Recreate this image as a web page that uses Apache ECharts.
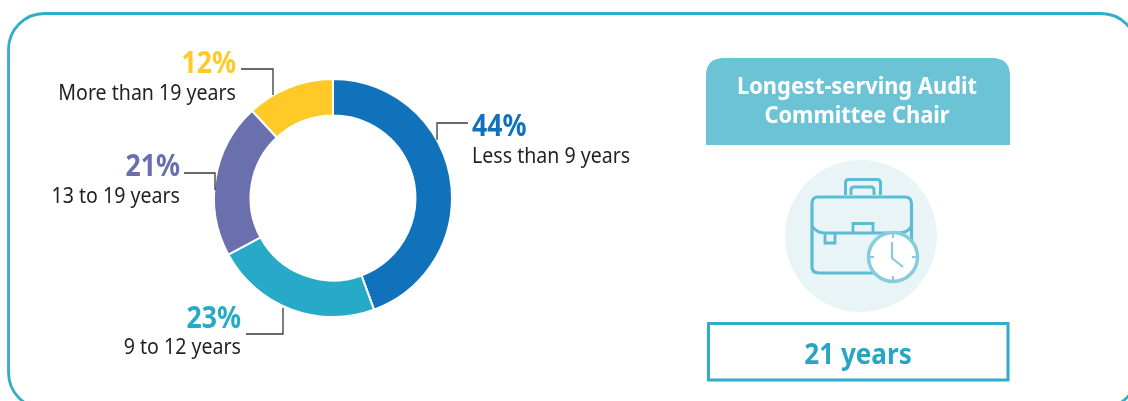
<!DOCTYPE html>
<html><head><meta charset="utf-8">
<style>html,body{margin:0;padding:0;background:#fff}#c{width:1128px;height:401px}</style>
<script src="https://cdn.jsdelivr.net/npm/echarts@6/dist/echarts.min.js"></script>
</head><body><div id="c"></div>
<script>
var categories = ['Less than 9 years','9 to 12 years','13 to 19 years','More than 19 years'];
var values = [44.4,22.7,21,11.9];
var colors = ['#1072BA','#27AAC7','#6A6FAE','#FFCA27'];
var panelTitle = ['Longest-serving Audit','Committee Chair'];
var panelValue = '21 years';

var FONT = '"Noto Sans"';
var labelPos = [
  {x:472, y:128, sy:158, align:'left',  line:[[468,123],[437,123],[437,140]]},
  {x:241, y:320, sy:349, align:'right', line:[[246,334],[283,334],[283,308]]},
  {x:180, y:168, sy:198, align:'right', line:[[184,173],[215,173],[215,190]]},
  {x:236, y:65,  sy:95,  align:'right', line:[[241,69],[273,69],[273,95]]}
];
var paths = {
  head:'M706 145 L706 76 Q706 58 724 58 L992 58 Q1010 58 1010 76 L1010 145 Z',
  handle:'M845.5 195 L845.5 183 Q845.5 179.5 849 179.5 L877 179.5 Q880.5 179.5 880.5 183 L880.5 195 M851 195 L851 190 Q851 187 854 187 L871 187 Q874 187 874 190 L874 195',
  body:'M818 197 L905 197 Q911.5 197 911.5 204 L911.5 267 Q911.5 273 905 273 L819 273 Q812 273 812 267 L812 204 Q812 197 818 197 Z',
  flap:'M812 226 Q816 233 826 233 L898 233 Q908 233 911.5 226 M853 232 L853 223.5 L873 223.5 L873 232 M825 233 L825 243 L835 243 L835 233',
  hands:'M892 242 L892 258 L903 267 M893 232 L893 238 M893 276 L893 282 M868 257 L874 257 M912 257 L918 257'
};
Object.keys(paths).forEach(function(k){
  echarts.graphic.registerShape('p_'+k, echarts.graphic.extendPath(paths[k],{}));
});
var g = [];
g.push({type:'rect',z:0,shape:{x:8.5,y:13.5,width:1128.5,height:395,r:36},style:{fill:'#fff',stroke:'#2FADC9',lineWidth:2.8}});
categories.forEach(function(c,i){
  var p = labelPos[i];
  g.push({type:'text',z:5,x:p.x,y:p.y-1,scaleX:0.86,style:{text:Math.round(values[i])+'%',fill:colors[i],font:'bold 31px '+FONT,textAlign:p.align,textVerticalAlign:'middle'}});
  g.push({type:'text',z:5,x:p.x,y:p.sy-1,scaleX:0.87,style:{text:c,fill:'#231F20',font:'22.5px '+FONT,textAlign:p.align,textVerticalAlign:'middle'}});
  g.push({type:'polyline',z:4,shape:{points:p.line},style:{fill:null,stroke:'#3a3a3a',lineWidth:1.3}});
});
// right panel
g.push({type:'p_head',z:3,style:{fill:'#6CC3D6'}});
g.push({type:'text',z:5,x:857,y:87,scaleX:0.95,style:{text:panelTitle[0],fill:'#fff',font:'bold 23px '+FONT,textAlign:'center',textVerticalAlign:'middle'}});
g.push({type:'text',z:5,x:857,y:116,scaleX:0.95,style:{text:panelTitle[1],fill:'#fff',font:'bold 23px '+FONT,textAlign:'center',textVerticalAlign:'middle'}});
g.push({type:'rect',z:3,shape:{x:708.5,y:323.5,width:299.5,height:56.5},style:{fill:'#fff',stroke:'#2FADC9',lineWidth:3}});
g.push({type:'text',z:5,x:858,y:356,scaleX:0.9,style:{text:panelValue,fill:'#27A6C4',font:'bold 29px '+FONT,textAlign:'center',textVerticalAlign:'middle'}});
// icon
var ic='#5BBDD3', ck='#85CCDD';
g.push({type:'circle',z:3,shape:{cx:861,cy:236,r:76},style:{fill:'#E9F4F7'}});
g.push({type:'p_handle',z:4,style:{fill:null,stroke:ic,lineWidth:3}});
g.push({type:'p_body',z:4,style:{fill:null,stroke:ic,lineWidth:3.2}});
g.push({type:'p_flap',z:4,style:{fill:null,stroke:ic,lineWidth:2.8}});
g.push({type:'circle',z:5,shape:{cx:893,cy:257,r:24.5},style:{fill:'#fff',stroke:ck,lineWidth:3.5}});
g.push({type:'p_hands',z:6,style:{fill:null,stroke:ck,lineWidth:2.2}});

var chart = echarts.init(document.getElementById('c'),null,{renderer:'canvas'});
chart.setOption({
  animation:false,
  graphic:{elements:g},
  series:[{
    type:'pie',z:2,center:[333,198],radius:[82.5,119],startAngle:90,clockwise:true,
    label:{show:false},labelLine:{show:false},silent:true,
    itemStyle:{borderColor:'#fff',borderWidth:2},
    data:categories.map(function(c,i){return {name:c,value:values[i],itemStyle:{color:colors[i]}};})
  }]
});
</script></body></html>
